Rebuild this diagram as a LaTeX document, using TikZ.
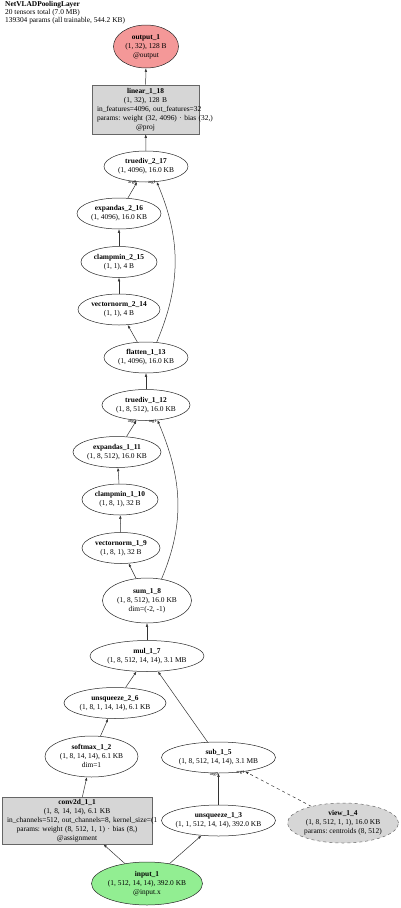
\documentclass[tikz,border=0pt]{standalone}
\usepackage{fontspec}
\setmainfont{Liberation Serif}
\frenchspacing
\usetikzlibrary{arrows.meta,shapes.geometric}
\definecolor{out_red}{RGB}{244, 152, 152}
\definecolor{in_green}{RGB}{146, 238, 146}
\definecolor{mod_gray}{RGB}{214, 214, 214}
\newcommand{\ovl}[1]{\makebox[0pt]{\begin{tabular}{@{}c@{}}#1\end{tabular}}}
\tikzstyle{opnode}=[ellipse,draw=black!85,fill=white,line width=0.5pt,
  inner sep=0pt,minimum height=31pt]
\tikzstyle{outnode}=[opnode,fill=out_red,minimum height=43pt]
\tikzstyle{innode}=[opnode,fill=in_green,minimum height=43pt]
\tikzstyle{parnode}=[opnode,fill=mod_gray,draw=black!60,dashed,minimum height=40pt]
\tikzstyle{modbox}=[rectangle,draw=black!60,fill=mod_gray,line width=0.6pt,
  inner xsep=5pt,inner ysep=1pt,align=center]
\tikzstyle{edgeline}=[draw=black!80,line width=0.5pt,-{Latex[length=3.5pt,width=2.6pt]}]
\tikzstyle{argl}=[font=\fontsize{4.5}{5}\selectfont,inner sep=0.5pt]

\begin{document}
\begin{tikzpicture}[x=1pt,y=1pt,every node/.style={font=\fontsize{7.4}{9}\selectfont}]
    \useasboundingbox (0,0) rectangle (400,-908);
    \node[anchor=north west,align=left,inner sep=0pt,font=\fontsize{7.4}{8}\selectfont] (title) at (5,-1)
        {\textbf{NetVLADPoolingLayer}\\20 tensors total (7.0 MB)\\139304 params (all trainable, 544.2 KB)};
    % top part
    \node[outnode,minimum width=65pt] (output1) at (146,-46.5) {\ovl{\textbf{output\_1}\\(1, 32), 128 B\\@output}};
    \node[modbox,text width=97pt,minimum height=49pt] (linear118) at (145.5,-109.5)
        {\textbf{linear\_1\_18}\\(1, 32), 128 B\\\mbox{in\_features=4096, out\_features=32}\\\mbox{params: weight (32, 4096) · bias (32,)}\\@proj};
    \node[opnode,minimum width=84pt] (truediv217) at (146,-166.5) {\ovl{\textbf{truediv\_2\_17}\\(1, 4096), 16.0 KB}};
    \node[opnode,minimum width=84pt] (expandas216) at (119,-213.5) {\ovl{\textbf{expandas\_2\_16}\\(1, 4096), 16.0 KB}};
    \node[opnode,minimum width=76pt] (clampmin215) at (119,-262) {\ovl{\textbf{clampmin\_2\_15}\\(1, 1), 4 B}};
    \node[opnode,minimum width=82pt] (vectornorm214) at (119,-309.5) {\ovl{\textbf{vectornorm\_2\_14}\\(1, 1), 4 B}};
    \node[opnode,minimum width=84pt] (flatten113) at (146,-357.5) {\ovl{\textbf{flatten\_1\_13}\\(1, 4096), 16.0 KB}};
    % middle part
    \node[opnode,minimum width=88pt] (truediv112) at (146,-405) {\ovl{\textbf{truediv\_1\_12}\\(1, 8, 512), 16.0 KB}};
    \node[opnode,minimum width=88pt] (expandas111) at (117,-452) {\ovl{\textbf{expandas\_1\_11}\\(1, 8, 512), 16.0 KB}};
    \node[opnode,minimum width=76pt] (clampmin110) at (120,-499.5) {\ovl{\textbf{clampmin\_1\_10}\\(1, 8, 1), 32 B}};
    \node[opnode,minimum width=78pt] (vectornorm19) at (121,-548) {\ovl{\textbf{vectornorm\_1\_9}\\(1, 8, 1), 32 B}};
    \node[opnode,minimum width=89pt,minimum height=45pt] (sum18) at (147,-600.5) {\ovl{\textbf{sum\_1\_8}\\(1, 8, 512), 16.0 KB\\dim=(-2, -1)}};
    \node[opnode,minimum width=114pt] (mul17) at (147,-656) {\ovl{\textbf{mul\_1\_7}\\(1, 8, 512, 14, 14), 3.1 MB}};
    \node[opnode,minimum width=102pt] (unsqueeze26) at (115,-703) {\ovl{\textbf{unsqueeze\_2\_6}\\(1, 8, 1, 14, 14), 6.1 KB}};
    % bottom part
    \node[opnode,minimum width=93pt,minimum height=41pt] (softmax12) at (91.5,-756.5) {\ovl{\textbf{softmax\_1\_2}\\(1, 8, 14, 14), 6.1 KB\\dim=1}};
    \node[opnode,minimum width=114pt] (sub15) at (218.5,-757.5) {\ovl{\textbf{sub\_1\_5}\\(1, 8, 512, 14, 14), 3.1 MB}};
    \node[modbox,text width=140pt,minimum height=47pt] (conv2d11) at (77,-820.5)
        {\textbf{conv2d\_1\_1}\\(1, 8, 14, 14), 6.1 KB\\\mbox{in\_channels=512, out\_channels=8, kernel\_size=(1}\\\mbox{params: weight (8, 512, 1, 1) · bias (8,)}\\@assignment};
    \node[opnode,minimum width=114pt] (unsqueeze13) at (218.5,-820.5) {\ovl{\textbf{unsqueeze\_1\_3}\\(1, 1, 512, 14, 14), 392.0 KB}};
    \node[parnode,minimum width=111pt] (view14) at (343,-823) {\ovl{\textbf{view\_1\_4}\\(1, 8, 512, 1, 1), 16.0 KB\\params: centroids (8, 512)}};
    \node[innode,minimum width=111pt] (input1) at (147,-883.5) {\ovl{\textbf{input\_1}\\(1, 512, 14, 14), 392.0 KB\\@input.x}};

    \draw[edgeline] (linear118) to (output1);
    \draw[edgeline] (truediv217) to (linear118);
    \draw[edgeline] (expandas216) to node[argl,pos=1,anchor=east,yshift=-1pt] {arg0} (truediv217);
    \draw[edgeline] (flatten113.55) to[out=67,in=-67] node[argl,pos=1,anchor=east,yshift=-1pt] {arg1} (truediv217.-55);
    \draw[edgeline] (clampmin215) to (expandas216);
    \draw[edgeline] (vectornorm214) to (clampmin215);
    \draw[edgeline] (flatten113) to (vectornorm214);
    \draw[edgeline] (truediv112) to (flatten113);
    \draw[edgeline] (expandas111) to node[argl,pos=1,anchor=east,yshift=-1pt] {arg0} (truediv112);
    \draw[edgeline] (sum18.56) to[out=67,in=-67] node[argl,pos=1,anchor=east,yshift=-1pt] {arg1} (truediv112.-53);
    \draw[edgeline] (clampmin110) to (expandas111);
    \draw[edgeline] (vectornorm19) to (clampmin110);
    \draw[edgeline] (sum18) to (vectornorm19);
    \draw[edgeline] (mul17) to (sum18);
    \draw[edgeline] (unsqueeze26) to (mul17);
    \draw[edgeline] (sub15) to (mul17);
    \draw[edgeline] (softmax12) to (unsqueeze26);
    \draw[edgeline] (conv2d11) to (softmax12);
    \draw[edgeline] (unsqueeze13) to node[argl,pos=1,anchor=east,yshift=-1pt] {arg0} (sub15);
    \draw[edgeline,dashed] (view14) to node[argl,pos=1,anchor=east,yshift=-1pt] {arg1} (sub15);
    \draw[edgeline] (input1) to (conv2d11);
    \draw[edgeline] (input1) to (unsqueeze13);
\end{tikzpicture}
\end{document}
